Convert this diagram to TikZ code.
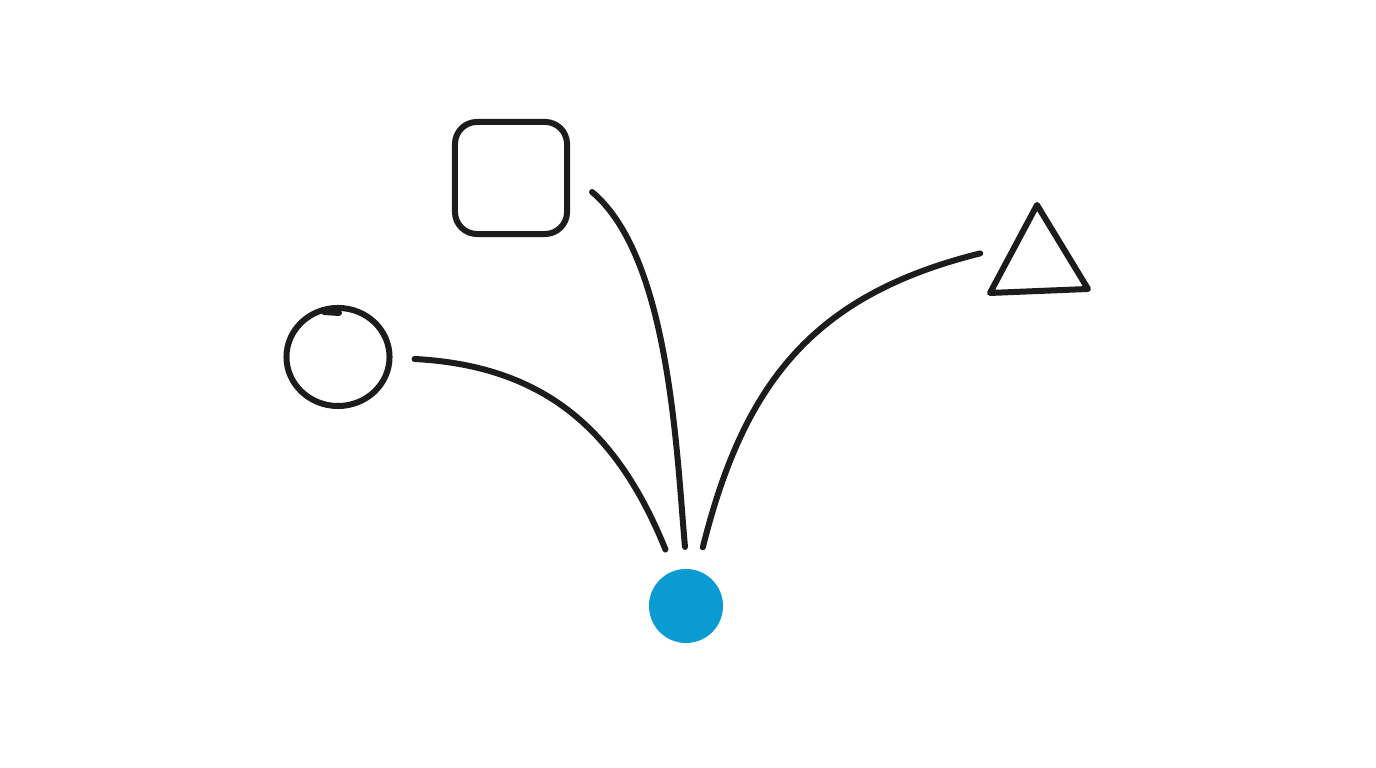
\documentclass[tikz,border=0pt]{standalone}
\usepackage{xcolor}
\definecolor{ink}{HTML}{1C1C1C}
\definecolor{blue}{HTML}{0A9BD2}
\usetikzlibrary{shapes, calc}

\begin{document}
\begin{tikzpicture}[x=0.01cm, y=0.01cm, shape line/.style={draw=ink, line width=0.06cm, line cap=round, line join=round}]
  \useasboundingbox (0,0) rectangle (1376,768);
  % Circle shape (left), with the pen overlap at the top
  \node[shape line, ellipse, minimum width=1.03cm, minimum height=0.98cm, inner sep=0] (circ) at (338,411) {};
  \draw[shape line] (324,456) -- (339,455);
  % Square shape (top)
  \node[shape line, rectangle, rounded corners=0.22cm, minimum width=1.12cm, minimum height=1.12cm, inner sep=0] (square) at (511,590) {};
  % Triangle shape (right)
  \coordinate (tri top) at (1037,563);
  \coordinate (tri left) at (990,475);
  \coordinate (tri right) at (1088,479);
  \coordinate (tri mid) at ($(tri left)!0.45!(tri top)$);
  \draw[shape line] (tri top) -- (tri right) -- (tri left) -- cycle;
  % Blue dot
  \node[circle, fill=blue, minimum size=0.74cm, inner sep=0, outer sep=0] (dot) at (686,162) {};

  % Curved connectors (shapes -> dot)
  \draw[shape line] ([xshift=0.22cm, yshift=-0.02cm]circ.east) to[out=-3, in=112, looseness=1.05] ([shift={(110:0.6cm)}]dot.center);
  \draw[shape line] ([xshift=0.22cm, yshift=-0.14cm]square.east) to[out=-40, in=95, looseness=0.7] ([shift={(91:0.59cm)}]dot.center);
  \draw[shape line] ([xshift=-0.31cm]tri mid) to[out=194, in=76, looseness=1.08] ([shift={(74:0.61cm)}]dot.center);
\end{tikzpicture}
\end{document}
